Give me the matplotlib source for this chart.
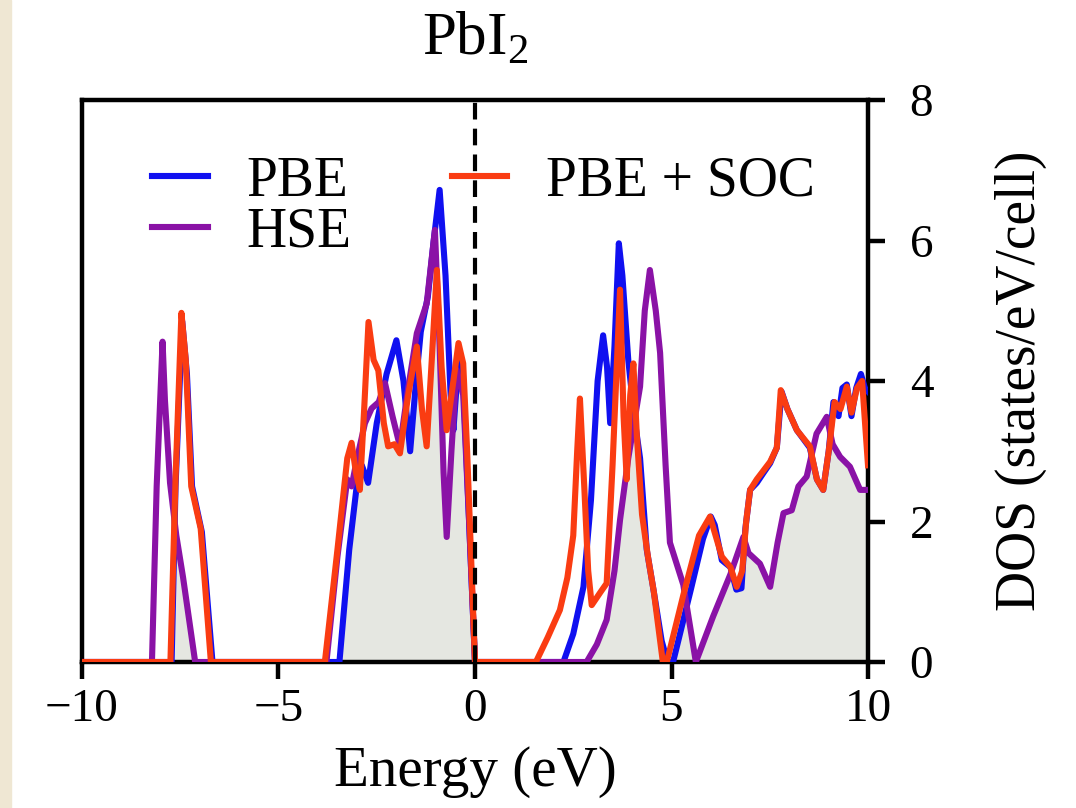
import matplotlib

matplotlib.use("Agg")
import matplotlib.pyplot as plt
import numpy as np
from matplotlib.patches import Rectangle

plt.rcParams["font.family"] = ["Liberation Serif", "DejaVu Serif"]
plt.rcParams["mathtext.fontset"] = "custom"
plt.rcParams["mathtext.rm"] = "Liberation Serif"

# PBE (blue)
pbe_e = [-10, -7.72, -7.62, -7.45, -7.33, -7.20, -6.95, -6.68,
         -3.45, -3.2, -3.0, -2.88, -2.72, -2.5, -2.25, -2.0, -1.82, -1.65, -1.50, -1.38,
         -1.2, -1.05, -0.9, -0.75, -0.62, -0.55, -0.42, -0.3, -0.15, 0.0,
         2.25, 2.5, 2.76, 2.95, 3.12, 3.26, 3.36, 3.44, 3.55, 3.66, 3.75, 3.90, 4.05,
         4.20, 4.37, 4.55, 4.75, 4.9, 5.04, 5.5, 5.8, 6.0, 6.1, 6.28, 6.5, 6.65, 6.78,
         6.88, 7.0, 7.17, 7.35, 7.51, 7.68, 7.80, 7.95, 8.19, 8.52, 8.7, 8.86, 9.0,
         9.12, 9.25, 9.35, 9.46, 9.58, 9.7, 9.82, 9.92, 10]
pbe_dos = [0, 0, 2.5, 4.85, 4.1, 2.5, 1.85, 0,
           0, 1.6, 2.55, 2.8, 2.55, 3.4, 4.1, 4.58, 4.0, 3.0, 4.0, 4.7,
           5.2, 6.0, 6.72, 5.5, 3.8, 3.3, 4.3, 4.0, 2.0, 0,
           0, 0.4, 1.07, 2.3, 4.0, 4.65, 4.2, 3.4, 4.5, 5.96, 5.5, 4.3, 3.5,
           2.9, 1.6, 1.0, 0.3, 0, 0, 1.05, 1.75, 2.07, 1.95, 1.45, 1.35, 1.03, 1.05,
           1.9, 2.45, 2.55, 2.7, 2.83, 3.05, 3.85, 3.6, 3.3, 3.05, 2.6, 2.45, 3.0,
           3.7, 3.5, 3.9, 3.95, 3.5, 3.9, 4.1, 3.9, 3.85]

# HSE (purple)
hse_e = [-10, -8.22, -8.10, -7.95, -7.89, -7.76, -7.6, -7.43, -7.12,
         -3.78, -3.5, -3.25, -3.14, -3.0, -2.8, -2.63, -2.45, -2.29, -2.1, -1.91,
         -1.7, -1.48, -1.23, -1.02, -0.9, -0.8, -0.72, -0.6, -0.47, -0.3, -0.15, 0.0,
         2.84, 3.1, 3.35, 3.55, 3.69, 3.9, 4.2, 4.32, 4.45, 4.6, 4.71, 4.85, 4.96,
         5.3, 5.62, 6.06, 6.5, 6.83, 6.96, 7.25, 7.51, 7.7, 7.85, 8.06, 8.23, 8.44,
         8.69, 8.95, 9.1, 9.29, 9.54, 9.80, 10]
hse_dos = [0, 0, 2.5, 4.56, 3.73, 2.55, 1.8, 1.21, 0,
           0, 1.5, 2.6, 2.5, 2.9, 3.4, 3.61, 3.7, 3.97, 3.5, 3.07,
           3.9, 4.68, 5.1, 6.15, 4.5, 2.7, 1.78, 3.0, 4.16, 3.8, 2.0, 0,
           0, 0.25, 0.6, 1.3, 2.02, 2.9, 3.92, 5.0, 5.58, 5.0, 4.4, 2.8, 1.7,
           1.1, 0, 0.65, 1.25, 1.78, 1.55, 1.40, 1.07, 1.7, 2.12, 2.16, 2.50, 2.64,
           3.25, 3.49, 3.1, 2.92, 2.78, 2.45, 2.45]

# PBE + SOC (red)
soc_e = [-10, -7.75, -7.62, -7.47, -7.36, -7.22, -6.98, -6.72,
         -3.82, -3.5, -3.25, -3.14, -3.03, -2.93, -2.82, -2.71, -2.58, -2.46, -2.32,
         -2.21, -2.05, -1.91, -1.7, -1.48, -1.35, -1.23, -1.1, -0.97, -0.85, -0.72,
         -0.55, -0.42, -0.3, -0.2, -0.1, 0.0,
         1.55, 1.85, 2.16, 2.35, 2.5, 2.6, 2.67, 2.78, 2.88, 2.97, 3.2, 3.35, 3.5,
         3.69, 3.78, 3.86, 3.95, 4.03, 4.12, 4.25, 4.40, 4.55, 4.78, 4.88, 5.3, 5.7,
         5.98, 6.28, 6.5, 6.66, 6.8, 6.9, 7.0, 7.17, 7.51, 7.68, 7.78, 7.95, 8.19,
         8.52, 8.7, 8.86, 9.0, 9.15, 9.3, 9.46, 9.58, 9.72, 9.85, 10]
soc_dos = [0, 0, 2.6, 4.97, 4.3, 2.5, 1.9, 0,
           0, 1.6, 2.9, 3.12, 2.7, 2.45, 3.6, 4.84, 4.3, 4.15, 3.4,
           3.07, 3.1, 2.97, 3.8, 4.49, 3.6, 3.07, 4.3, 5.58, 4.2, 3.3,
           4.0, 4.54, 4.25, 3.0, 1.5, 0,
           0, 0.35, 0.74, 1.2, 1.8, 3.0, 3.75, 2.5, 1.3, 0.81, 1.0, 1.12, 2.8,
           5.3, 3.5, 2.6, 3.8, 4.25, 3.2, 2.1, 1.5, 1.0, 0, 0, 0.95, 1.8,
           2.07, 1.5, 1.35, 1.07, 1.3, 2.0, 2.45, 2.6, 2.85, 3.05, 3.87, 3.6, 3.3,
           3.07, 2.6, 2.45, 3.0, 3.7, 3.6, 3.92, 3.55, 3.9, 4.0, 2.8]

x_ticks = [-10, -5, 0, 5, 10]
y_ticks = [0, 2, 4, 6, 8]

fig = plt.figure(figsize=(10.76, 8.08), dpi=100)
fig.patches.append(
    Rectangle((0, 0), 11 / 1076, 1, transform=fig.transFigure, color="#efe7d3", zorder=-1)
)
ax = fig.add_axes([82 / 1076, 1 - 662 / 808, 786 / 1076, 562 / 808])

# shaded area under the lowest curve
grid = np.linspace(-10, 10, 2001)
low = np.minimum(
    np.minimum(np.interp(grid, pbe_e, pbe_dos), np.interp(grid, hse_e, hse_dos)),
    np.interp(grid, soc_e, soc_dos),
)
ax.fill_between(grid, 0, low, color="#e5e7e1", lw=0, zorder=1)

lw = 4.4
ax.plot(pbe_e, pbe_dos, color="#1010f0", lw=lw, label="PBE", zorder=3)
ax.plot(hse_e, hse_dos, color="#8a12a6", lw=lw, label="HSE", zorder=4)
ax.plot(soc_e, soc_dos, color="#fa3c12", lw=lw, label="PBE + SOC", zorder=5)
ax.axvline(0, color="black", lw=3, ls=(0, (4, 2.2)), zorder=6)

ax.set_xlim(-10, 10)
ax.set_ylim(0, 8)
ax.set_xticks(x_ticks)
ax.set_yticks(y_ticks)
ax.yaxis.tick_right()
ax.yaxis.set_label_position("right")
for s in ax.spines.values():
    s.set_linewidth(3.2)
ax.tick_params(width=3.2, length=12, labelsize=34)
ax.tick_params(axis="x", pad=7)
ax.tick_params(axis="y", pad=18)

ax.set_xlabel("Energy (eV)", fontsize=41, labelpad=11)
ax.set_ylabel("DOS (states/eV/cell)", fontsize=40, labelpad=44)
ax.set_title(r"PbI$_\mathregular{2}$", fontsize=44, pad=33)

ax.legend(
    ncol=2,
    frameon=False,
    fontsize=40,
    loc="upper left",
    bbox_to_anchor=(0.061, 0.94),
    handlelength=1.0,
    handletextpad=0.7,
    columnspacing=1.8,
    labelspacing=-0.02,
    borderaxespad=0,
)

fig.savefig("out.png", dpi=100)
